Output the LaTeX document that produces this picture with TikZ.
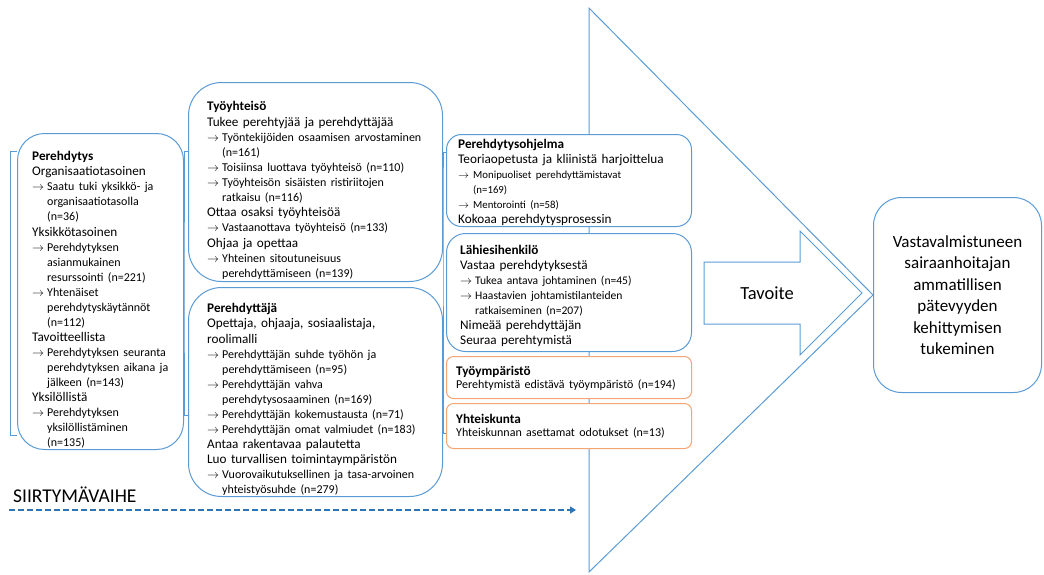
\documentclass[tikz,border=0pt]{standalone}
\usepackage{fontspec}
\setmainfont{Carlito}
\usetikzlibrary{arrows.meta}

\definecolor{smblue}{RGB}{91,155,213}
\definecolor{smorange}{RGB}{244,165,115}
\definecolor{phaseblue}{RGB}{46,117,182}

% one arrowed line with hanging indent
\newcommand{\subln}[2][12]{{\fontsize{#1}{15}\selectfont\hangindent=15pt\hangafter=1\noindent\makebox[15pt][l]{$\rightarrow$}#2\par}}

\begin{document}
\begin{tikzpicture}[x=1pt, y=-1pt, >=Latex,
  box/.style={draw=smblue, line width=1pt, fill=white, anchor=north west, inner sep=0},
  obox/.style={box, draw=smorange, rounded corners=7pt},
  txt/.style={anchor=north west, inner sep=0, text width=260pt, align=left, font=\fontsize{13.2}{15.3}\selectfont},
  link/.style={draw=smblue, line width=1pt}]
  \useasboundingbox (0,0) rectangle (1044,574);

  % goal box and the big arrow behind the columns
  \node[box, rounded corners=28pt, minimum width=168, minimum height=195, align=center,
        font=\fontsize{17}{21.5}\selectfont] (goal) at (873,197)
       {Vastavalmistuneen\\ sairaanhoitajan\\ ammatillisen\\ pätevyyden\\ kehittymisen\\ tukeminen};
  \draw[link] (589,8) -- (goal.west) -- (589,572) -- cycle;

  \draw[link] (704,262) -- (800,262) -- (800,231) -- (862,293) -- (800,355) -- (800,324) -- (704,324) -- cycle;
  \node[font=\fontsize{18.5}{20}\selectfont] (tavoite) at (767,293) {Tavoite};

  % boxes
  \node[box, rounded corners=27pt, minimum width=166, minimum height=316] (pereh) at (17,133) {};
  \node[box, rounded corners=33pt, minimum width=254, minimum height=199] (tyo) at (188,82) {};
  \node[box, rounded corners=33pt, minimum width=254, minimum height=209] (ptaja) at (188,287) {};
  \node[box, rounded corners=15pt, minimum width=245, minimum height=92] (ohjelma) at (446,134) {};
  \node[box, rounded corners=19pt, minimum width=245, minimum height=118] (lahi) at (446,233) {};
  \node[obox, minimum width=245, minimum height=42] (ymp) at (446,356) {};
  \node[obox, minimum width=245, minimum height=45] (yhteis) at (446,403) {};

  % bracket connectors
  \draw[link] ([yshift=-18]pereh.north west) -- ++(-7,0) |- ([yshift=-302]pereh.north west);
  \draw[link] ([yshift=-69]tyo.north west) -| (pereh.east) |- ([yshift=-128]ptaja.north west);
  \draw[link] ([yshift=-18]ohjelma.north west) -| (tyo.east) |- ([yshift=-30]yhteis.north west);

  % texts
  \node[txt] (perehT) at ([xshift=15,yshift=-18]pereh.north west) {%
    \textbf{Perehdytys}\par
    Organisaatiotasoinen\par
    \subln{Saatu tuki yksikkö- ja\newline organisaatiotasolla\newline (n=36)}
    Yksikkötasoinen\par
    \subln{Perehdytyksen\newline asianmukainen\newline resurssointi (n=221)}
    \subln{Yhtenäiset\newline perehdytyskäytännöt\newline (n=112)}
    Tavoitteellista\par
    \subln{Perehdytyksen seuranta\newline perehdytyksen aikana ja\newline jälkeen (n=143)}
    Yksilöllistä\par
    \subln{Perehdytyksen\newline yksilöllistäminen\newline (n=135)}};
  \node[txt, font=\fontsize{13.2}{15.6}\selectfont] (tyoT) at ([xshift=19,yshift=-19]tyo.north west) {%
    \textbf{Työyhteisö}\par
    Tukee perehtyjää ja perehdyttäjää\par
    \subln{Työntekijöiden osaamisen arvostaminen\newline (n=161)}
    \subln{Toisiinsa luottava työyhteisö (n=110)}
    \subln{Työyhteisön sisäisten ristiriitojen\newline ratkaisu (n=116)}
    Ottaa osaksi työyhteisöä\par
    \subln{Vastaanottava työyhteisö (n=133)}
    Ohjaa ja opettaa\par
    \subln{Yhteinen sitoutuneisuus\newline perehdyttämiseen (n=139)}};
  \node[txt] (ptajaT) at ([xshift=19,yshift=-16]ptaja.north west) {%
    \textbf{Perehdyttäjä}\par
    Opettaja, ohjaaja, sosiaalistaja,\newline roolimalli\par
    \subln{Perehdyttäjän suhde työhön ja\newline perehdyttämiseen (n=95)}
    \subln{Perehdyttäjän vahva\newline perehdytysosaaminen (n=169)}
    \subln{Perehdyttäjän kokemustausta (n=71)}
    \subln{Perehdyttäjän omat valmiudet (n=183)}
    Antaa rakentavaa palautetta\par
    Luo turvallisen toimintaympäristön\par
    \subln{Vuorovaikutuksellinen ja tasa-arvoinen\newline yhteistyösuhde (n=279)}};
  \node[txt, font=\fontsize{13.2}{15}\selectfont] (ohjelmaT) at ([xshift=12,yshift=-5]ohjelma.north west) {%
    \textbf{Perehdytysohjelma}\par
    Teoriaopetusta ja kliinistä harjoittelua\par
    \subln[10.8]{Monipuoliset perehdyttämistavat\newline (n=169)}
    \subln[10.8]{Mentorointi (n=58)}
    Kokoaa perehdytysprosessin\par};
  \node[txt, font=\fontsize{13.2}{15}\selectfont] (lahiT) at ([xshift=14,yshift=-12]lahi.north west) {%
    \textbf{Lähiesihenkilö}\par
    Vastaa perehdytyksestä\par
    \subln[11.6]{Tukea antava johtaminen (n=45)}
    \subln[11.6]{Haastavien johtamistilanteiden\newline ratkaiseminen (n=207)}
    Nimeää perehdyttäjän\par
    Seuraa perehtymistä\par};
  \node[txt, font=\fontsize{13.2}{13}\selectfont] (ympT) at ([xshift=10,yshift=-10]ymp.north west) {%
    \textbf{Työympäristö}\par
    {\fontsize{12}{13}\selectfont Perehtymistä edistävä työympäristö (n=194)\par}};
  \node[txt, font=\fontsize{13.2}{13}\selectfont] (yhteisT) at ([xshift=10,yshift=-11]yhteis.north west) {%
    \textbf{Yhteiskunta}\par
    {\fontsize{12}{13}\selectfont Yhteiskunnan asettamat odotukset (n=13)\par}};

  % transition phase
  \node[anchor=west, inner sep=0, font=\fontsize{19.5}{22}\selectfont] (phase) at (13,495) {SIIRTYMÄVAIHE};
  \coordinate (phaseA) at (9,510);
  \coordinate (phaseB) at (576,510);
  \draw[phaseblue, line width=2pt, dash pattern=on 6pt off 3pt, -{Triangle[length=6pt,width=7pt]}] (phaseA) -- (phaseB);
\end{tikzpicture}
\end{document}
